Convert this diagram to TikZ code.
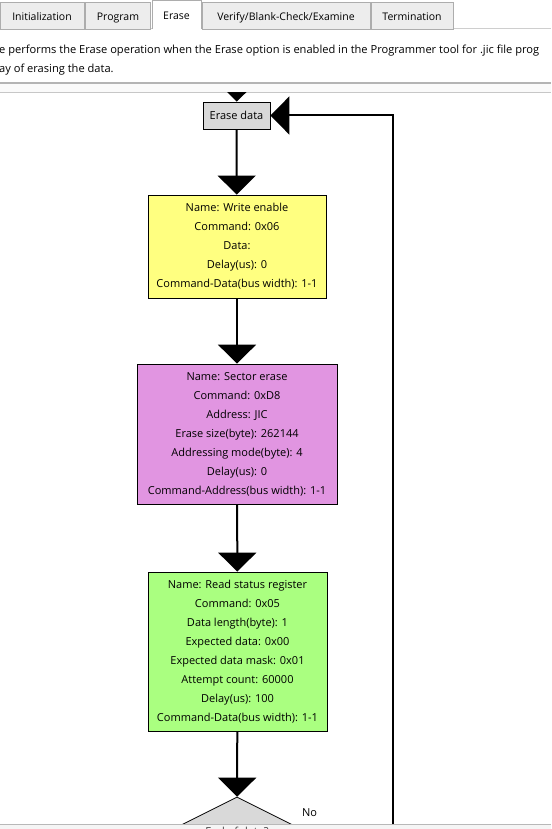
\documentclass[tikz,border=0pt]{standalone}
\usepackage{fontspec}
\setmainfont{Open Sans}
\usetikzlibrary{arrows.meta,shapes.geometric}
\definecolor{tabfill}{HTML}{EDEDED}
\definecolor{tabline}{HTML}{ADADAD}
\definecolor{sepline}{HTML}{B4B4B4}
\definecolor{boxgray}{HTML}{D9D9D9}
\definecolor{boxyellow}{HTML}{FFFF80}
\definecolor{boxpink}{HTML}{E195E1}
\definecolor{boxgreen}{HTML}{AAFF80}
\begin{document}
\begin{tikzpicture}[x=1pt, y=-1pt, >={Triangle[width=38pt,length=19pt]},
      tab/.style={draw=tabline, fill=tabfill, inner sep=0pt, minimum height=27pt, text height=10.5pt, text depth=0pt, font=\fontsize{10.5}{12}\selectfont},
      box/.style={draw, line width=0.8pt, align=center, inner sep=0pt, font=\fontsize{11}{19}\selectfont},
      flow/.style={->, line width=2pt}]
    \useasboundingbox (0,0) rectangle (551,829);
    \fill[white] (0,0) rectangle (551,829);
    \draw[tabline!60, line width=1pt] (0,28.5) -- (551,28.5);
    \node[tab, minimum width=84pt] (tinit) at (42,15.5) {Initialization};
    \node[tab, minimum width=65pt] (tprog) at (118,15.5) {Program};
    \node[tab, minimum width=168pt] (tver) at (286,15.5) {Verify/Blank-Check/Examine};
    \node[tab, minimum width=82pt] (tterm) at (412,15.5) {Termination};
    \node[fill=white, inner sep=0pt, minimum width=49pt, minimum height=29pt, text height=10.5pt, text depth=0pt, font=\fontsize{10.5}{12}\selectfont] (terase) at (176.5,14.5) {Erase};
    \draw[tabline] (terase.south west) -- (terase.north west) -- (terase.north east) -- (terase.south east);
    \node[anchor=west, inner sep=0pt, font=\fontsize{11.1}{12}\selectfont] (line1) at (-1,51) {e performs the Erase operation when the Erase option is enabled in the Programmer tool for .jic file prog};
    \node[anchor=west, inner sep=0pt, font=\fontsize{11.1}{12}\selectfont] (line2) at (-1,70) {ay of erasing the data.};
    \draw[sepline, line width=2pt] (0,83) -- (551,83);
    \fill[black!2] (0,84) rectangle (551,92);
    \draw[black!22, line width=0.8pt] (0,92) -- (551,92);
    \begin{scope}
      \clip (0,92.5) rectangle (551,824);
      \coordinate (entry) at (237,70);
      \node[box, fill=boxgray, minimum width=67pt, minimum height=27pt] (erase) at (236.5,115.5) {Erase data};
      \node[box, fill=boxyellow, minimum width=178pt, minimum height=103pt] (wren) at (237,246.5) {Name: Write enable\\Command: 0x06\\Data:\\Delay(us): 0\\Command-Data(bus width): 1-1};
      \node[box, fill=boxpink, minimum width=200pt, minimum height=140pt] (sect) at (237,434) {Name: Sector erase\\Command: 0xD8\\Address: JIC\\Erase size(byte): 262144\\Addressing mode(byte): 4\\Delay(us): 0\\Command-Address(bus width): 1-1};
      \node[box, fill=boxgreen, minimum width=179pt, minimum height=159pt] (rdsr) at (237.5,651.5) {Name: Read status register\\Command: 0x05\\Data length(byte): 1\\Expected data: 0x00\\Expected data mask: 0x01\\Attempt count: 60000\\Delay(us): 100\\Command-Data(bus width): 1-1};
      \node[diamond, draw, line width=0.8pt, fill=boxgray, inner sep=0pt, minimum width=136pt, minimum height=68pt, aspect=2] (endq) at (237,831) {};
      \node[anchor=west, inner sep=0pt, font=\fontsize{11}{12}\selectfont] (nolbl) at (302,813) {No};
      \draw[flow] (entry) -- (erase);
      \draw[flow] (erase) -- (wren);
      \draw[flow] (wren) -- (sect);
      \draw[flow] (sect) -- (rdsr);
      \draw[flow] (rdsr) -- (endq);
      \draw[flow] (endq.east) -- (393,831) |- (erase.east);
    \end{scope}
    \fill[black!4] (0,824) rectangle (551,829);
    \draw[black!28, line width=1pt] (0,824) -- (551,824);
    \node[inner sep=0pt, font=\fontsize{11}{12}\selectfont, text=black!75] (endtxt) at (endq.center) {End of data?};
  \end{tikzpicture}
\end{document}
